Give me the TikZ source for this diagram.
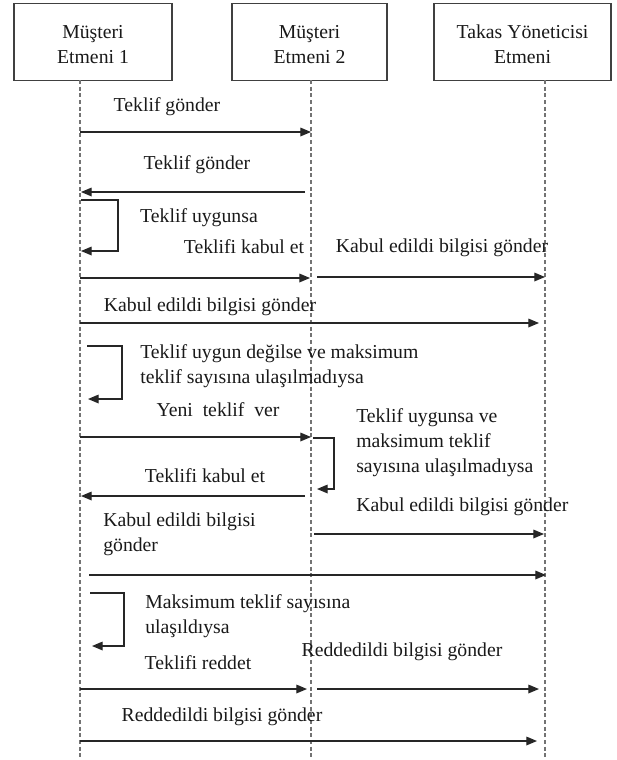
\documentclass[tikz,border=0pt]{standalone}
\usepackage{fontspec}
\setmainfont{Liberation Serif}
\usetikzlibrary{arrows.meta}
\begin{document}
\begin{tikzpicture}[x=0.75pt,y=-0.75pt,
  every node/.style={font=\fontsize{14.8}{18.75}\selectfont, inner sep=0pt, text=black!90},
  actor/.style={draw=black!75, line width=1.1pt, fill=white, minimum height=57.75pt, align=center},
  life/.style={draw=black!55, line width=1.2pt, dash pattern=on 3pt off 2pt},
  msg/.style={draw=black!85, line width=0.9pt, -{Triangle[length=8pt,width=6.5pt]}},
  lbl/.style={align=left, anchor=west}]
\useasboundingbox (0,0) rectangle (617,760);
% actors
\node[actor, minimum width=118.5pt] (b1) at (93,42) {\strut Müşteri\\Etmeni 1};
\node[actor, minimum width=116.25pt] (b2) at (309.5,42) {\strut Müşteri\\Etmeni 2};
\node[actor, minimum width=132.75pt] (b3) at (522.5,42) {\strut Takas Yöneticisi\\Etmeni};
% lifelines
\coordinate (l1t) at (80,80);  \coordinate (l1b) at (80,760);
\coordinate (l2t) at (311,80); \coordinate (l2b) at (311,760);
\coordinate (l3t) at (545,80); \coordinate (l3b) at (545,760);
\draw[life] (l1t) -- (l1b);
\draw[life] (l2t) -- (l2b);
\draw[life] (l3t) -- (l3b);
% 1
\node (t1) at (167,107) {Teklif gönder};
\coordinate (a1s) at (80,132); \coordinate (a1e) at (311,132);
\draw[msg] (a1s) -- (a1e);
% 2
\node (t2) at (197,165) {Teklif gönder};
\coordinate (a2s) at (305,192); \coordinate (a2e) at (81,192);
\draw[msg] (a2s) -- (a2e);
% 3 self loop
\coordinate (s1a) at (81,200); \coordinate (s1b) at (118,200);
\coordinate (s1c) at (118,251); \coordinate (s1d) at (81,251);
\draw[msg] (s1a) -- (s1b) -- (s1c) -- (s1d);
\node (t3) at (199,218) {Teklif uygunsa};
\node (t4) at (244,247) {Teklifi kabul et};
\coordinate (a3s) at (80,278); \coordinate (a3e) at (310,278);
\draw[msg] (a3s) -- (a3e);
% 4
\node (t5) at (442,248) {Kabul edildi bilgisi gönder};
\coordinate (a4s) at (317,277); \coordinate (a4e) at (545,277);
\draw[msg] (a4s) -- (a4e);
% 5
\node (t6) at (210,307) {Kabul edildi bilgisi gönder};
\coordinate (a5s) at (80,323); \coordinate (a5e) at (539,323);
\draw[msg] (a5s) -- (a5e);
% 6 self loop
\coordinate (s2a) at (87,346); \coordinate (s2b) at (122,346);
\coordinate (s2c) at (122,399); \coordinate (s2d) at (88,399);
\draw[msg] (s2a) -- (s2b) -- (s2c) -- (s2d);
\node[lbl] (t7) at (140,366) {Teklif uygun değilse ve maksimum\\teklif sayısına ulaşılmadıysa};
\node (t8) at (218,410) {Yeni\ \ teklif\ \ ver};
\coordinate (a6s) at (80,437); \coordinate (a6e) at (311,437);
\draw[msg] (a6s) -- (a6e);
% 7 self loop on L2
\coordinate (s3a) at (313,438); \coordinate (s3b) at (334,438);
\coordinate (s3c) at (334,489); \coordinate (s3d) at (317,489);
\draw[msg] (s3a) -- (s3b) -- (s3c) -- (s3d);
\node[lbl] (t9) at (356,443) {Teklif uygunsa ve\\maksimum teklif\\sayısına ulaşılmadıysa};
\node[lbl] (t10) at (356,507) {Kabul edildi bilgisi gönder};
\coordinate (a7s) at (314,534); \coordinate (a7e) at (544,534);
\draw[msg] (a7s) -- (a7e);
% 8
\node (t11) at (205,476) {Teklifi kabul et};
\coordinate (a8s) at (305,496); \coordinate (a8e) at (81,496);
\draw[msg] (a8s) -- (a8e);
% 9
\node[lbl] (t12) at (103,534.5) {Kabul edildi bilgisi\\gönder};
\coordinate (a9s) at (89,575); \coordinate (a9e) at (546,575);
\draw[msg] (a9s) -- (a9e);
% 10 self loop
\coordinate (s4a) at (90,593); \coordinate (s4b) at (124,593);
\coordinate (s4c) at (124,646); \coordinate (s4d) at (92,646);
\draw[msg] (s4a) -- (s4b) -- (s4c) -- (s4d);
\node[lbl] (t13) at (145,616.5) {Maksimum teklif sayısına\\ulaşıldıysa};
\node (t14) at (198,663) {Teklifi reddet};
\coordinate (a10s) at (80,689); \coordinate (a10e) at (307,689);
\draw[msg] (a10s) -- (a10e);
% 11
\node (t15) at (402,652) {Reddedildi bilgisi gönder};
\coordinate (a11s) at (317,689); \coordinate (a11e) at (539,689);
\draw[msg] (a11s) -- (a11e);
% 12
\node (t16) at (222,717) {Reddedildi bilgisi gönder};
\coordinate (a12s) at (80,741); \coordinate (a12e) at (537,741);
\draw[msg] (a12s) -- (a12e);
\end{tikzpicture}
\end{document}
